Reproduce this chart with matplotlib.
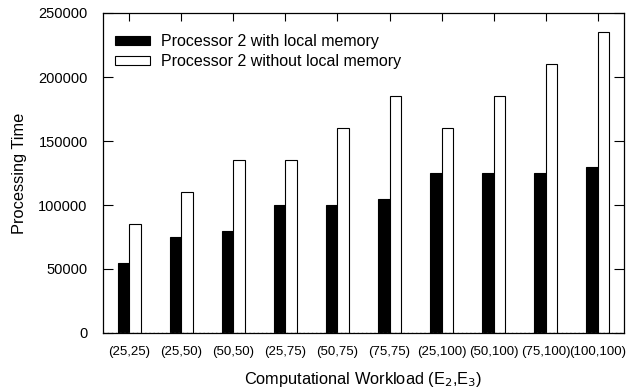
import matplotlib
matplotlib.use("Agg")
import matplotlib.pyplot as plt
import numpy as np

categories = ["(25,25)", "(25,50)", "(50,50)", "(25,75)", "(50,75)", "(75,75)",
              "(25,100)", "(50,100)", "(75,100)", "(100,100)"]
with_local = [55000, 75000, 80000, 100000, 100000, 105000, 125000, 125000, 125000, 130000]
without_local = [85000, 110000, 135000, 135000, 160000, 185000, 160000, 185000, 210000, 235000]
series_names = ["Processor 2 with local memory", "Processor 2 without local memory"]

plt.rcParams['font.family'] = ['Liberation Sans', 'DejaVu Sans']

fig = plt.figure(figsize=(6.37, 3.89), dpi=100)
ax = fig.add_axes([103/637, 1-333/389, (624-103)/637, (333-13)/389])

x = np.arange(1, len(categories) + 1)
w = 0.22
ax.bar(x - w/2, with_local, w, color='black', edgecolor='black', linewidth=0.8,
       label=series_names[0], zorder=2)
ax.bar(x + w/2, without_local, w, color='white', edgecolor='black', linewidth=0.8,
       label=series_names[1], zorder=2)

ax.set_xlim(0.5, len(categories) + 0.5)
ax.set_ylim(0, 250000)
ax.set_yticks([0, 50000, 100000, 150000, 200000, 250000])
ax.set_xticks(x)
ax.set_xticklabels(categories, fontsize=9.5)
ax.tick_params(axis='y', direction='in', length=7, width=0.8, right=True, labelsize=10.5, pad=11)
ax.tick_params(axis='x', direction='in', length=6, width=0.8, top=True, bottom=False, pad=9)

ax.axhline(0, color='#555555', linestyle=(0, (1, 2)), linewidth=1.0, zorder=3)
for s in ax.spines.values():
    s.set_linewidth(0.9)

ax.set_ylabel("Processing Time", fontsize=11.8, labelpad=8)
ax.set_xlabel("Computational Workload (E$_2$,E$_3$)", fontsize=11.8, labelpad=9)

ax.legend(loc='upper left', frameon=False, fontsize=11.5, handlelength=2.2,
          handleheight=0.5, handletextpad=0.7, labelspacing=0.3,
          bbox_to_anchor=(-0.005, 0.978), borderaxespad=0.5)

fig.savefig("out.png", dpi=100)
